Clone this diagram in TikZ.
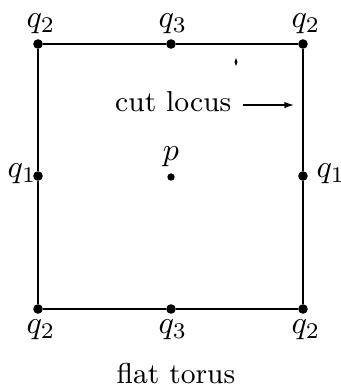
\documentclass[tikz,border=0pt]{standalone}
\usetikzlibrary{arrows.meta}
\begin{document}
\begin{tikzpicture}[x=0.3125pt,y=-0.3125pt,
  pt/.style={circle,fill=black,inner sep=0pt,minimum size=3pt},
  side/.style={line width=0.6pt},
  lbl/.style={inner sep=0pt,font=\fontsize{10}{12}\selectfont},
  txt/.style={inner sep=0pt,font=\fontsize{9}{11}\selectfont}]
\useasboundingbox (0,0) rectangle (341,389);
\node[pt] (tl) at (38,44) {};
\node[pt] (tm) at (171,44) {};
\node[pt] (tr) at (303,44) {};
\node[pt] (ml) at (38,176) {};
\node[pt] (mr) at (303,176) {};
\node[pt] (bl) at (38,309) {};
\node[pt] (bm) at (171,309) {};
\node[pt] (br) at (303,309) {};
\node[pt,minimum size=2.3pt] (p) at (171,177) {};
\draw[side] (tl) -- (tm) -- (tr) -- (mr) -- (br);
\draw[side] (tl) -- (ml) -- (bl);
\draw[line width=0.8pt] (bl) -- (bm) -- (br);
\node[lbl] at (41,24) {$q_2$};
\node[lbl] at (173,24) {$q_3$};
\node[lbl] at (306,24) {$q_2$};
\node[lbl,anchor=east] at (37,174) {$q_1$};
\node[lbl,anchor=west] at (316,174) {$q_1$};
\node[lbl] at (171,157) {$p$};
\node[lbl] at (41,330) {$q_2$};
\node[lbl] at (173,330) {$q_3$};
\node[lbl] at (306,330) {$q_2$};
\node[txt,anchor=base east] (cl) at (232,111) {cut locus};
\coordinate (cs) at (243,105);
\coordinate (ce) at (294,105);
\draw[line width=0.4pt,-{Latex[length=3pt,width=2pt]}] (cs) -- (ce);
\fill (236,58) -- (237.5,62) -- (236,66) -- (234.5,62) -- cycle;
\node[txt,anchor=base] (ft) at (176,383) {flat torus};
\end{tikzpicture}
\end{document}
